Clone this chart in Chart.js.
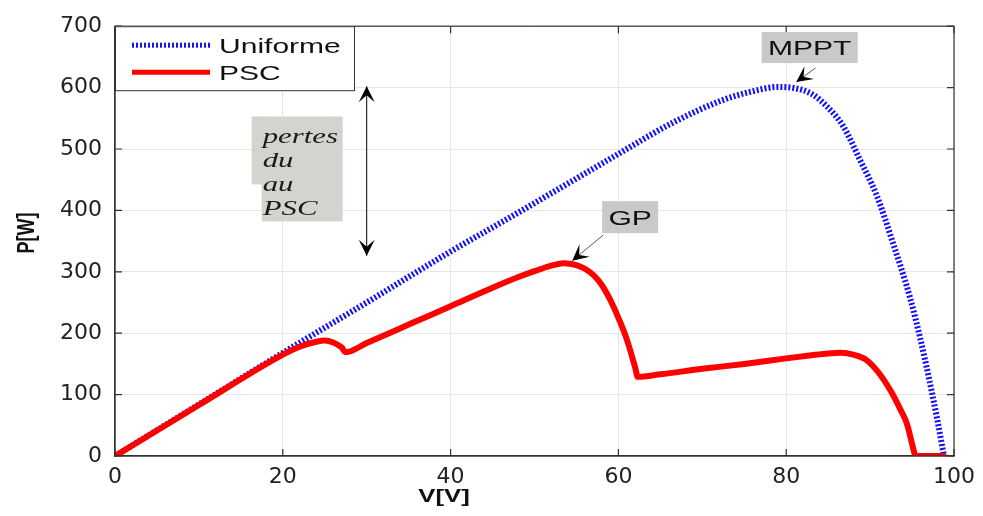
<!DOCTYPE html>
<html>
<head>
<meta charset="utf-8">
<script src="https://cdn.jsdelivr.net/npm/chart.js@4.4.0/dist/chart.umd.min.js"></script>
<style>
  html, body { margin: 0; padding: 0; background: #fff; }
  #wrap { width: 983px; height: 516px; }
</style>
</head>
<body>
<div id="wrap"><canvas id="pvChart" width="983" height="516"></canvas></div>
<script>
// P-V curves: V in volts, P in watts
const vUniforme = [0, 10, 20, 30, 40, 47, 55, 60, 66.5, 72.5, 76, 79, 81, 83, 84.8, 86.8, 88.8, 90.8, 92.7, 94.8, 96, 97, 98, 98.8];
const pUniforme = [0, 84, 168, 250, 333, 388, 452, 492, 543, 580, 594, 601, 599, 590, 570, 537, 482, 424, 348, 256, 190, 128, 60, 0];

const vPSC = [0, 10, 20, 22, 24, 25, 26, 27, 27.5, 30, 35, 40, 45, 48, 50, 52, 53.5, 55, 56, 57, 58, 59, 60, 61, 62, 62.3, 65, 70, 75, 80, 83, 85, 86.5, 88, 89.5, 91, 92.5, 93.6, 94.4, 95.2, 95.4, 97, 98.8];
const pPSC = [0, 83, 165, 178, 186, 188, 185, 177, 169, 184, 214, 244, 274, 291, 301, 310, 314, 311, 305, 295, 279, 255, 225, 190, 144, 129, 133, 142, 150, 159, 164, 167, 168, 165, 157, 136, 105, 76, 52, 9, 0, 0, 0];

const xTicks = [0, 20, 40, 60, 80, 100];
const yTicks = [0, 100, 200, 300, 400, 500, 600, 700];

const seriesNames = ['Uniforme', 'PSC'];

function pts(xs, ys) {
  return xs.map((x, i) => ({ x: x, y: ys[i] }));
}

let ctx = document.getElementById('pvChart').getContext('2d');

// text in the source image is stretched sideways, so draw it wider
function wideText(c, txt, x, y, font, align, sx) {
  c.save();
  c.font = font;
  c.textAlign = align || 'left';
  c.textBaseline = 'alphabetic';
  c.translate(x, y);
  c.scale(sx || 1.43, 1);
  c.fillText(txt, 0, 0);
  c.restore();
}

function arrowHead(c, x0, y0, x1, y1) {
  const a = Math.atan2(y1 - y0, x1 - x0);
  c.save();
  c.translate(x1, y1);
  c.rotate(a);
  c.beginPath();
  c.moveTo(0, 0);
  c.lineTo(-16, -8);
  c.lineTo(-9, 0);
  c.lineTo(-16, 8);
  c.closePath();
  c.fill();
  c.restore();
}

function arrow(c, x0, y0, x1, y1, both, color) {
  c.save();
  c.strokeStyle = color || '#000';
  c.fillStyle = '#000';
  c.lineWidth = 1;
  c.beginPath();
  c.moveTo(x0, y0);
  c.lineTo(x1, y1);
  c.stroke();
  arrowHead(c, x0, y0, x1, y1);
  if (both) arrowHead(c, x1, y1, x0, y0);
  c.restore();
}

const decorations = {
  id: 'decorations',
  afterDatasetsDraw(chart) {
    const c = chart.ctx;
    const a = chart.chartArea;
    const xs = chart.scales.x, ys = chart.scales.y;
    c.save();

    // box around the plot + inward ticks (matlab style)
    c.strokeStyle = '#333';
    c.lineWidth = 1.2;
    c.strokeRect(a.left, a.top, a.right - a.left, a.bottom - a.top);
    c.beginPath();
    xTicks.forEach(v => {
      const px = xs.getPixelForValue(v);
      c.moveTo(px, a.bottom); c.lineTo(px, a.bottom - 7);
      c.moveTo(px, a.top); c.lineTo(px, a.top + 7);
    });
    yTicks.forEach(v => {
      const py = ys.getPixelForValue(v);
      c.moveTo(a.left, py); c.lineTo(a.left + 7, py);
      c.moveTo(a.right, py); c.lineTo(a.right - 7, py);
    });
    c.stroke();

    // axis titles
    c.fillStyle = '#111';
    wideText(c, 'V[V]', 444, 502, 'bold 18px "Liberation Sans", Arial, sans-serif', 'center');
    c.save();
    c.translate(34, 233);
    c.rotate(-Math.PI / 2);
    c.scale(1, 1.35);
    c.font = 'bold 18px "Liberation Sans", Arial, sans-serif';
    c.textAlign = 'center';
    c.fillText('P[W]', 0, 0);
    c.restore();

    // legend
    const lx = a.left, ly = a.top;
    c.fillStyle = '#fff';
    c.fillRect(lx, ly, 239, 64);
    c.strokeStyle = '#333';
    c.lineWidth = 1;
    c.strokeRect(lx + 0.5, ly + 0.5, 239, 64);
    c.lineWidth = 5;
    c.strokeStyle = '#1212f5';
    c.setLineDash([2, 2]);
    c.beginPath(); c.moveTo(lx + 17, ly + 19); c.lineTo(lx + 95, ly + 19); c.stroke();
    c.setLineDash([]);
    c.strokeStyle = '#ff0000';
    c.beginPath(); c.moveTo(lx + 17, ly + 46); c.lineTo(lx + 95, ly + 46); c.stroke();
    c.fillStyle = '#111';
    wideText(c, seriesNames[0], lx + 104, ly + 27, '21px "Liberation Sans", Arial, sans-serif', 'left');
    wideText(c, seriesNames[1], lx + 104, ly + 54, '21px "Liberation Sans", Arial, sans-serif', 'left');

    // MPPT label
    const mx = xs.getPixelForValue(82.8), my = ys.getPixelForValue(666);
    c.fillStyle = '#c9c9c9';
    c.fillRect(mx - 48, my - 15, 96, 31);
    c.fillStyle = '#111';
    wideText(c, 'MPPT', mx, my + 8, '21px "Liberation Sans", Arial, sans-serif', 'center');
    arrow(c, xs.getPixelForValue(83.5), ys.getPixelForValue(632),
             xs.getPixelForValue(81.2), ys.getPixelForValue(609), false, '#555');

    // GP label
    const gx = xs.getPixelForValue(61.4), gy = ys.getPixelForValue(389);
    c.fillStyle = '#c9c9c9';
    c.fillRect(gx - 28, gy - 16, 56, 32);
    c.fillStyle = '#111';
    wideText(c, 'GP', gx, gy + 8, '21px "Liberation Sans", Arial, sans-serif', 'center');
    arrow(c, xs.getPixelForValue(58.2), ys.getPixelForValue(360),
             xs.getPixelForValue(54.5), ys.getPixelForValue(318), false, '#555');

    // losses box
    const bx = xs.getPixelForValue(17.6), by = ys.getPixelForValue(553);
    c.fillStyle = '#d5d3cd';
    c.fillRect(bx - 1, by, 81, 105);
    c.fillRect(bx - 11, by, 12, 68);
    c.fillStyle = '#1a1a1a';
    const sf = 'italic 22px "Liberation Serif", "Times New Roman", serif';
    wideText(c, 'pertes', bx, by + 27, sf, 'left', 1.4);
    wideText(c, 'du', bx, by + 51, sf, 'left', 1.4);
    wideText(c, 'au', bx, by + 75, sf, 'left', 1.4);
    wideText(c, 'PSC', bx, by + 99, sf, 'left', 1.4);

    // double arrow showing the loss between the two maxima
    const ax = xs.getPixelForValue(30);
    arrow(c, ax, ys.getPixelForValue(326), ax, ys.getPixelForValue(602), true, '#000');

    c.restore();
  }
};

const config = {
  type: 'line',
  data: {
    datasets: [{
      label: seriesNames[0],
      data: pts(vUniforme, pUniforme),
      borderColor: '#1212f5',
      borderWidth: 6,
      borderDash: [2, 2],
      cubicInterpolationMode: 'monotone',
      pointRadius: 0,
      fill: false,
      order: 1
    }, {
      label: seriesNames[1],
      data: pts(vPSC, pPSC),
      borderColor: '#ff0000',
      borderWidth: 6,
      cubicInterpolationMode: 'monotone',
      pointRadius: 0,
      borderJoinStyle: 'round',
      borderCapStyle: 'round',
      fill: false,
      order: 0
    }]
  },
  options: {
    responsive: false,
    animation: false,
    layout: { padding: { top: 21, right: 29, left: 0, bottom: 0 } },
    plugins: {
      legend: { display: false },
      tooltip: { enabled: false }
    },
    scales: {
      x: {
        type: 'linear',
        min: 0,
        max: 100,
        afterBuildTicks: s => { s.ticks = xTicks.map(v => ({ value: v })); },
        afterFit: s => { s.height = 60; },
        grid: { color: '#e6e6e6', drawTicks: false },
        border: { color: '#333', width: 1.2 },
        ticks: {
          padding: 8,
          color: '#222',
          font: { family: 'DejaVu Sans', size: 22 },
          maxRotation: 0
        }
      },
      y: {
        min: 0,
        max: 700,
        afterBuildTicks: s => { s.ticks = yTicks.map(v => ({ value: v })); },
        afterFit: s => { s.width = 115; },
        grid: { color: '#e6e6e6', drawTicks: false },
        border: { color: '#333', width: 1.2 },
        ticks: {
          padding: 13,
          color: '#222',
          font: { family: 'DejaVu Sans', size: 22 }
        }
      }
    }
  },
  plugins: [decorations]
};

let pvChart = new Chart(ctx, config);
</script>
</body>
</html>
